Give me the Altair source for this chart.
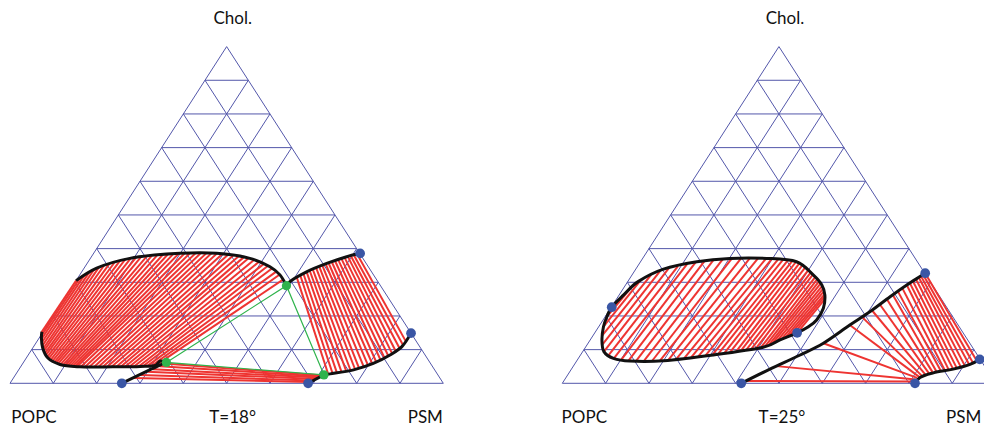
import altair as alt
import pandas as pd

# ---------------- shared ----------------
TICKS = [0, 10, 20, 30, 40, 50, 60, 70, 80, 90, 100]
VERTEX_LABELS = ["POPC", "PSM", "Chol."]
TITLES = ["T=18°", "T=25°"]

# all compositions are (PSM %, Chol %), POPC = 100 - PSM - Chol

# ---------------- T = 18 °C ----------------
L_BLUE = [(25.8, 0.0), (68.8, 0.0), (61.5, 38.6), (85.1, 14.9)]
L_GREEN = [(33.0, 6.2), (49.3, 29.0), (71.2, 2.5)]

L_LOWER_LEFT = [(33.0, 6.2), (31.3, 6.6), (31.0, 5.4), (27.5, 5.0), (21.3, 4.9), (13.7, 4.9),
                (8.75, 5.6), (5.0, 7.5), (2.3, 10.5), (0.5, 13.5), (-0.3, 15.3)]
L_SHORT_LEFT = [(25.8, 0.0), (31.9, 5.4), (33.0, 6.2)]
L_UPPER_LEFT = [(0.0, 30.5), (2.9, 34.2), (9.1, 37.1), (19.9, 38.6), (28.4, 38.6), (36.8, 37.1),
                (42.7, 34.6), (46.2, 32.2), (49.3, 29.0)]
L_UPPER_RIGHT = [(49.3, 29.0), (49.5, 30.2), (51.9, 33.1), (55.3, 35.6), (58.9, 37.6), (61.5, 38.6)]
L_LOWER_RIGHT = [(71.2, 2.5), (72.5, 2.8), (77.3, 4.0), (80.9, 5.9), (83.5, 8.4), (85.0, 10.9), (85.1, 14.9)]
L_SHORT_RIGHT = [(68.8, 0.0), (71.2, 2.5)]

L_TIE_A_LO = [(-0.3, 15.2), (0.2, 14.2), (0.7, 13.2), (1.3, 12.1), (1.9, 11.1), (2.5, 10.2), (3.0, 9.4),
              (3.6, 8.8), (4.1, 8.2), (4.7, 7.7), (5.3, 7.3), (5.9, 6.9), (6.5, 6.6), (7.1, 6.3),
              (7.6, 6.0), (8.2, 5.8), (8.9, 5.6), (9.5, 5.4), (10.1, 5.3), (10.7, 5.2), (11.3, 5.1),
              (11.9, 5.0), (12.5, 5.0), (13.0, 4.9), (13.9, 4.9), (14.9, 4.9), (15.9, 4.9), (17.0, 4.9),
              (18.0, 4.9), (19.0, 4.9), (20.0, 4.9), (21.0, 4.9), (22.1, 4.9), (23.1, 4.9), (24.1, 4.9),
              (25.1, 4.9), (26.1, 4.9), (27.2, 5.0), (28.1, 5.0), (29.1, 5.1), (30.1, 5.3), (31.0, 5.4)]
L_TIE_A_HI = [(0.0, 30.5), (0.5, 31.4), (1.1, 32.2), (1.8, 33.1), (2.5, 33.8), (3.3, 34.5), (4.2, 35.0),
              (5.2, 35.6), (6.2, 36.1), (7.2, 36.5), (8.2, 36.9), (9.3, 37.2), (10.4, 37.4), (11.5, 37.6),
              (12.7, 37.8), (13.8, 38.0), (15.0, 38.2), (16.2, 38.3), (17.3, 38.4), (18.5, 38.5), (19.7, 38.6),
              (21.0, 38.6), (22.2, 38.6), (23.5, 38.6), (24.7, 38.6), (26.0, 38.6), (27.2, 38.6), (28.5, 38.6),
              (29.8, 38.4), (31.2, 38.1), (32.5, 37.9), (33.9, 37.7), (35.2, 37.4), (36.5, 37.2), (38.0, 36.6),
              (39.4, 36.0), (40.8, 35.4), (42.1, 34.9), (43.4, 34.1), (44.8, 33.1), (46.1, 32.3), (47.6, 30.8)]

L_TIE_B_HI = [(50.5, 31.4), (51.0, 32.0), (51.4, 32.6), (51.9, 33.1), (52.4, 33.5), (52.9, 33.9), (53.5, 34.3),
              (54.0, 34.7), (54.5, 35.1), (55.1, 35.5), (55.6, 35.8), (56.2, 36.1), (56.8, 36.4), (57.3, 36.8),
              (57.9, 37.1), (58.5, 37.4), (59.1, 37.7), (59.7, 37.9), (60.3, 38.1), (60.9, 38.4)]
L_TIE_B_LO = [(72.1, 2.7), (73.0, 2.9), (73.9, 3.1), (74.8, 3.4), (75.8, 3.6), (76.7, 3.8), (77.6, 4.1),
              (78.3, 4.5), (79.1, 5.0), (79.9, 5.4), (80.7, 5.8), (81.3, 6.4), (82.0, 7.0), (82.6, 7.6),
              (83.2, 8.2), (83.8, 8.8), (84.2, 9.6), (84.7, 10.4), (85.0, 11.4), (85.0, 12.6)]

L_TIE_C_LO = [(27.6, 1.6), (28.8, 2.5), (29.9, 3.4), (30.9, 4.2), (32.0, 5.1), (32.6, 5.9)]
L_TIE_C_HI = [(69.0, 0.4), (69.5, 0.8), (70.0, 1.3), (70.4, 1.7), (70.8, 2.0), (71.1, 2.3)]

# ---------------- T = 25 °C ----------------
R_BLUE = [(0.1, 22.6), (46.7, 15.0), (41.3, 0.0), (67.4, 32.7), (92.8, 7.1), (81.4, 0.0)]
R_LOOP = [(0.1, 22.6), (1.0, 26.2), (2.4, 30.2), (6.4, 33.9), (13.0, 36.1), (20.1, 37.1), (28.6, 37.1),
          (36.0, 36.1), (41.8, 32.2), (45.3, 29.2), (47.5, 26.2), (49.1, 22.3), (49.3, 18.8), (48.4, 16.8),
          (46.7, 15.0), (43.8, 12.9), (41.0, 10.7), (30.6, 8.4), (20.0, 6.7), (12.3, 6.6), (8.1, 7.4),
          (4.9, 9.4), (2.7, 12.9), (1.1, 16.8), (0.4, 19.8)]
R_UPPER = [(41.3, 0.0), (45.8, 4.2), (50.7, 8.4), (54.3, 11.9), (57.7, 17.3), (60.4, 21.3), (62.8, 25.7),
           (64.9, 29.2), (66.7, 31.7), (67.4, 32.7)]
R_LOWER = [(81.4, 0.0), (81.7, 1.7), (84.1, 3.1), (88.1, 4.2), (91.3, 5.6), (92.8, 7.1)]

R_TIE_A_LO = [(0.4, 19.8), (1.1, 16.8), (2.1, 14.0), (3.5, 11.4), (4.9, 9.4), (6.5, 8.3), (8.2, 7.4),
              (10.1, 6.8), (11.9, 6.6), (13.7, 6.6), (15.5, 6.6), (17.4, 6.7), (19.2, 6.7), (21.0, 6.8),
              (22.7, 7.1), (24.4, 7.4), (25.9, 7.6), (27.4, 7.9), (28.9, 8.1), (30.4, 8.3), (31.6, 8.6),
              (32.9, 8.9), (34.1, 9.1), (35.4, 9.4), (36.4, 9.6), (37.5, 9.9), (38.5, 10.1), (39.5, 10.3),
              (40.5, 10.5), (41.3, 10.9), (42.0, 11.4), (42.6, 12.0), (43.3, 12.5), (44.0, 13.0), (44.7, 13.5),
              (45.3, 14.0), (46.0, 14.5), (46.7, 15.0)]
R_TIE_A_HI = [(1.6, 28.0), (2.8, 30.7), (4.4, 32.2), (5.9, 33.4), (7.5, 34.2), (9.3, 34.8), (11.1, 35.4),
              (12.8, 36.0), (14.7, 36.5), (16.6, 36.8), (18.6, 36.9), (20.6, 37.1), (22.7, 37.2), (24.7, 37.2),
              (26.6, 37.2), (28.5, 37.1), (29.9, 37.0), (31.4, 36.9), (32.6, 36.7), (33.8, 36.5), (34.9, 36.3),
              (35.9, 36.1), (36.9, 35.8), (37.9, 35.3), (38.9, 34.7), (40.0, 33.9), (40.9, 33.2), (41.7, 32.5),
              (42.6, 31.7), (43.4, 31.0), (44.1, 30.2), (44.8, 29.5), (45.5, 28.7), (46.1, 28.0), (46.7, 27.3),
              (47.3, 26.5), (47.7, 25.8), (48.1, 25.0)]

R_TIE_B_HI = [(42.2, 0.7), (46.9, 5.1), (54.3, 11.9), (57.7, 17.3), (59.2, 19.8), (60.6, 21.7), (61.6, 23.4),
              (62.5, 24.9), (63.2, 26.2), (63.8, 27.3), (64.4, 28.2), (64.9, 29.2), (65.3, 29.8), (65.7, 30.4),
              (66.1, 31.0), (66.5, 31.5), (66.8, 31.9), (67.1, 32.3), (67.4, 32.7)]
R_TIE_B_LO = [(81.1, 0.5), (81.0, 1.1), (81.1, 1.6), (81.4, 1.9), (81.9, 2.2), (82.6, 2.5), (83.3, 2.8),
              (84.0, 3.1), (84.8, 3.3), (85.6, 3.6), (86.4, 3.8), (87.2, 4.0), (88.1, 4.2), (88.8, 4.5),
              (89.6, 4.8), (90.4, 5.1), (91.1, 5.6), (91.8, 6.0), (92.5, 6.5)]

# ---------------- layout / style ----------------
W, H = 976, 421
X_DOMAIN = [-0.004616, 2.247865]
Y_DOMAIN = [-0.135729, 1.114642]
PANEL_SHIFT = [0.0, 1.27464]      # horizontal placement of the two triangles (side units)
GRID_C = "#5357aa"
RED = "#ee3431"
GREEN = "#2fb34c"
BLUE = "#3a56a5"
INK = "#111111"
FONT = "Lato"


def to_xy(p, panel):
    psm, chol = p
    return (psm + chol / 2.0) / 100.0 + PANEL_SHIFT[panel], chol / 100.0


def seg_rows(lo, hi, panel):
    rows = []
    for a, b in zip(lo, hi):
        x1, y1 = to_xy(a, panel)
        x2, y2 = to_xy(b, panel)
        rows.append(dict(x=x1, y=y1, x2=x2, y2=y2))
    return rows


def grid_rows(panel):
    rows = []
    for t in TICKS:
        for a, b in [((0, t), (100 - t, t)), ((t, 0), (t, 100 - t)), ((100 - t, 0), (0, 100 - t))]:
            if a != b:
                rows += seg_rows([a], [b], panel)
    return rows


def curve_rows(curves, panel):
    rows = []
    for name, pts in curves:
        for i, p in enumerate(pts):
            x, y = to_xy(p, panel)
            rows.append(dict(x=x, y=y, c=f"{panel}-{name}", i=i))
    return rows


def pt_rows(pts, panel):
    return [dict(zip(("x", "y"), to_xy(p, panel))) for p in pts]


XS = alt.Scale(domain=X_DOMAIN, nice=False, zero=False)
YS = alt.Scale(domain=Y_DOMAIN, nice=False, zero=False)
X = alt.X("x:Q", scale=XS, axis=None)
Y = alt.Y("y:Q", scale=YS, axis=None)

grid = pd.DataFrame(grid_rows(0) + grid_rows(1))
ties = pd.DataFrame(
    seg_rows(L_TIE_A_LO, L_TIE_A_HI, 0) + seg_rows(L_TIE_B_LO, L_TIE_B_HI, 0)
    + seg_rows(L_TIE_C_LO, L_TIE_C_HI, 0)
    + seg_rows(R_TIE_A_LO, R_TIE_A_HI, 1) + seg_rows(R_TIE_B_LO, R_TIE_B_HI, 1)
)
green_tri = pd.DataFrame([dict(x=x, y=y, i=i) for i, (x, y) in
                          enumerate(to_xy(p, 0) for p in L_GREEN)])
curves = pd.DataFrame(curve_rows([("ll", L_LOWER_LEFT), ("sl", L_SHORT_LEFT), ("ul", L_UPPER_LEFT),
                                  ("ur", L_UPPER_RIGHT), ("lr", L_LOWER_RIGHT), ("sr", L_SHORT_RIGHT)], 0)
                      + curve_rows([("up", R_UPPER), ("lo", R_LOWER)], 1))
loop = pd.DataFrame(curve_rows([("loop", R_LOOP)], 1))
blue = pd.DataFrame(pt_rows(L_BLUE, 0) + pt_rows(R_BLUE, 1))
green = pd.DataFrame(pt_rows(L_GREEN, 0))

layers = [
    alt.Chart(grid).mark_rule(color=GRID_C, strokeWidth=1).encode(x=X, y=Y, x2="x2:Q", y2="y2:Q"),
    alt.Chart(ties).mark_rule(color=RED, strokeWidth=2).encode(x=X, y=Y, x2="x2:Q", y2="y2:Q"),
    alt.Chart(green_tri).mark_line(color=GREEN, strokeWidth=1.2, interpolate="linear-closed")
    .encode(x=X, y=Y, order="i:Q"),
    alt.Chart(curves).mark_line(color=INK, strokeWidth=3, interpolate="catmull-rom")
    .encode(x=X, y=Y, detail="c:N", order="i:Q"),
    alt.Chart(loop).mark_line(color=INK, strokeWidth=3, interpolate="cardinal-closed")
    .encode(x=X, y=Y, order="i:Q"),
    alt.Chart(green).mark_circle(color=GREEN, size=85, opacity=1).encode(x=X, y=Y),
    alt.Chart(blue).mark_circle(color=BLUE, size=95, opacity=1).encode(x=X, y=Y),
]

# text labels anchored at the triangle vertices / base midpoint
label_specs = []
for panel in (0, 1):
    label_specs += [
        (VERTEX_LABELS[0], (0, 0), panel, 24 if panel == 0 else 22, 35),
        (VERTEX_LABELS[1], (100, 0), panel, -18 if panel == 0 else -32, 35),
        (VERTEX_LABELS[2], (0, 100), panel, 6, -28),
        (TITLES[panel], (50, 0), panel, 6 if panel == 0 else 3, 35),
    ]
for text, p, panel, dx, dy in label_specs:
    x, y = to_xy(p, panel)
    df = pd.DataFrame([dict(x=x, y=y, t=text)])
    layers.append(
        alt.Chart(df).mark_text(font=FONT, fontSize=17, color=INK, dx=dx, dy=dy, baseline="middle")
        .encode(x=X, y=Y, text="t:N")
    )

chart = (
    alt.layer(*layers)
    .properties(width=W, height=H, padding=0, autosize=alt.AutoSizeParams(type="none"))
    .configure_view(stroke=None)
)
chart.save("out.html", embed_options={"renderer": "svg", "actions": False})
